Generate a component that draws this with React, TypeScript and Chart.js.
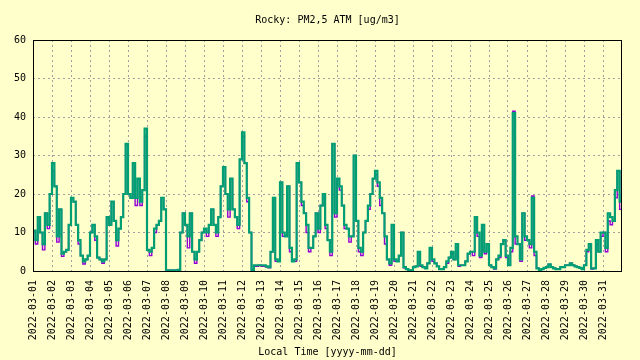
import React, { useEffect, useRef } from "react";
import { Chart, registerables } from "chart.js";

Chart.register(...registerables);

const TITLE = "Rocky: PM2,5 ATM [ug/m3]";
const X_TITLE = "Local Time [yyyy-mm-dd]";

// tick labels (one per day)
const dateLabels: string[] = [
  "2022-03-01", "2022-03-02", "2022-03-03", "2022-03-04", "2022-03-05", "2022-03-06",
  "2022-03-07", "2022-03-08", "2022-03-09", "2022-03-10", "2022-03-11", "2022-03-12",
  "2022-03-13", "2022-03-14", "2022-03-15", "2022-03-16", "2022-03-17", "2022-03-18",
  "2022-03-19", "2022-03-20", "2022-03-21", "2022-03-22", "2022-03-23", "2022-03-24",
  "2022-03-25", "2022-03-26", "2022-03-27", "2022-03-28", "2022-03-29", "2022-03-30",
  "2022-03-31",
];

const yTicks = [0, 10, 20, 30, 40, 50, 60];

// sample interval: 3 hours (in days)
const SAMPLE_DAYS = 3 / 24;

// channel B (teal), 8 samples per day, last value at the right edge
const channelB: number[] = [
  10.5, 8, 14, 10, 7, 15, 12, 20,
  28, 22, 9, 16, 4.5, 5, 5.5, 12,
  19, 18, 12, 8, 4, 2.5, 3, 4,
  10, 12, 9, 3.5, 3, 2.5, 3, 14,
  12, 18, 13, 8, 11, 14, 20, 33,
  20, 19, 28, 19, 24, 18, 21, 37,
  5.5, 5, 6, 11, 12, 13, 19, 16,
  0.2, 0.2, 0.2, 0.2, 0.2, 0.3, 10, 15,
  12, 9, 15, 5, 3, 5, 8, 10,
  11, 10, 12, 16, 12, 10, 14, 22,
  27, 20, 16, 24, 16, 14, 12, 29,
  36, 28, 19, 10, 0.3, 1.5, 1.5, 1.5,
  1.5, 1.5, 1.2, 1, 5, 19, 3, 2.5,
  23, 10, 9, 22, 6, 2.5, 3, 28,
  23, 18, 15, 12, 6, 6, 9, 15,
  11, 17, 20, 12, 8, 5, 33, 15,
  24, 22, 17, 12, 11, 9, 9, 30,
  13, 6, 5, 10, 13, 17, 20, 24,
  26, 23, 19, 15, 9, 3, 2, 12,
  3, 2.5, 4, 10, 1, 0.5, 0.2, 0.2,
  1, 1.2, 5, 1.5, 1, 0.7, 2, 6,
  3, 2, 1.2, 0.5, 0.5, 1, 2.5, 3.5,
  5, 3, 7, 1.5, 1.5, 1.5, 2.5, 4.5,
  5, 5, 14, 10, 4, 12, 5, 7,
  1.5, 1, 0.7, 3, 4, 7, 8, 4,
  1.5, 6, 41, 9, 7, 3, 15, 9,
  8, 7, 19, 5, 0.7, 0.3, 0.5, 0.8,
  1, 1.7, 1, 0.7, 0.5, 0.5, 1, 1,
  1.5, 1.5, 2, 1.5, 1.2, 1, 0.8, 0.5,
  1.5, 5.5, 7, 0.7, 0.7, 8, 5, 10,
  10, 6, 15, 14, 13, 21, 26, 18,
  20,
];

// channel A (purple)
const channelA: number[] = [
  10.5, 7, 14, 10, 5.5, 15, 11, 20,
  26, 22, 7.5, 16, 3.8, 5, 5.5, 12,
  19, 18, 12, 7, 4, 1.8, 3, 4,
  10, 12, 8, 3.5, 3, 2, 3, 14,
  12, 18, 13, 6.5, 11, 14, 20, 33,
  20, 19, 28, 17, 24, 17, 21, 35,
  5.5, 4, 6, 10, 12, 13, 19, 16,
  0.2, 0.2, 0.2, 0.2, 0.2, 0.3, 10, 15,
  12, 6, 15, 5, 2, 5, 8, 10,
  11, 9, 12, 16, 12, 9, 14, 22,
  27, 20, 14, 24, 16, 14, 11, 29,
  35, 28, 18, 10, 0.3, 1.2, 1.2, 1.5,
  1.2, 1.2, 1, 0.8, 5, 19, 2.5, 2.5,
  23, 9, 9, 22, 5, 2.5, 2.5, 28,
  23, 17, 15, 10, 5, 6, 9, 15,
  10, 17, 20, 11, 8, 4, 33, 14,
  24, 21, 17, 11, 11, 7.5, 9, 30,
  13, 5, 4, 10, 13, 16, 20, 24,
  25, 22, 17, 15, 7, 3, 1.5, 12,
  2.5, 2.5, 4, 10, 0.8, 0.5, 0.2, 0.2,
  1, 1.2, 5, 1.2, 1, 0.7, 2, 5.5,
  2.5, 2, 1.2, 0.5, 0.5, 1, 2, 3.5,
  4.5, 3, 6, 1.2, 1.5, 1.5, 2.5, 4.5,
  5, 4, 14, 9, 3.5, 12, 4.5, 7,
  1.5, 1, 0.5, 3, 3.5, 7, 8, 3.5,
  1.5, 5, 41.5, 7, 7, 2.5, 15, 8,
  8, 6, 19.5, 4, 0.7, 0.2, 0.5, 0.8,
  1, 1.7, 1, 0.7, 0.5, 0.5, 1, 1,
  1.5, 1.5, 2, 1.5, 1.2, 1, 0.8, 0.5,
  1.5, 5, 7, 0.5, 0.7, 7, 5, 9,
  10, 5, 13, 12, 13, 19, 26, 16,
  12,
];

const BG = "#ffffcc";
const FONT = "DejaVu Sans Mono";

const toPoints = (vals: number[]) =>
  vals.map((v, i) => ({ x: Math.min(i * SAMPLE_DAYS, dateLabels.length), y: v }));

const decorPlugin = {
  id: "decor",
  beforeDraw(chart: any) {
    const { ctx, width, height } = chart;
    ctx.save();
    ctx.fillStyle = BG;
    ctx.fillRect(0, 0, width, height);
    ctx.restore();
  },
  afterDraw(chart: any) {
    const { ctx, chartArea } = chart;
    const { left, right, top, bottom } = chartArea;
    ctx.save();
    ctx.strokeStyle = "#000";
    ctx.lineWidth = 1;
    ctx.setLineDash([]);
    ctx.strokeRect(Math.round(left) + 0.5, Math.round(top) + 0.5, Math.round(right - left) - 1, Math.round(bottom - top));
    ctx.fillStyle = "#000";
    ctx.font = `10px "${FONT}"`;
    ctx.textAlign = "center";
    ctx.textBaseline = "middle";
    const cx = (left + right) / 2;
    ctx.fillText(TITLE, cx, 20);
    ctx.fillText(X_TITLE, cx, 352);
    ctx.restore();
  },
};

export default function App() {
  const ref = useRef<HTMLCanvasElement | null>(null);

  useEffect(() => {
    document.body.style.margin = "0";
    const canvas = ref.current;
    if (!canvas) return;
    const chart = new Chart(canvas, {
      type: "line",
      data: {
        datasets: [
          {
            label: "B",
            data: toPoints(channelB),
            borderColor: "#009e73",
            backgroundColor: "#009e73",
            borderWidth: 2.2,
            pointRadius: 0,
            stepped: "before",
            fill: false,
          },
          {
            label: "A",
            data: toPoints(channelA),
            borderColor: "#9400d3",
            backgroundColor: "#9400d3",
            borderWidth: 1.4,
            pointRadius: 0,
            stepped: "before",
            fill: false,
          },
        ],
      },
      options: {
        animation: false,
        responsive: false,
        layout: { padding: { top: 40, right: 18, left: 0, bottom: 0 } },
        plugins: {
          legend: { display: false },
          title: { display: false },
          tooltip: { enabled: false },
        },
        scales: {
          x: {
            type: "linear",
            min: 0,
            max: dateLabels.length,
            afterBuildTicks: (scale: any) => {
              scale.ticks = dateLabels.map((_, i) => ({ value: i }));
            },
            afterFit: (scale: any) => {
              scale.height = 89;
            },
            grid: { color: "#a0a0a0", lineWidth: 1, drawTicks: false },
            border: { display: false, dash: [2, 3] },
            ticks: {
              autoSkip: false,
              maxRotation: 90,
              minRotation: 90,
              padding: 9,
              color: "#000",
              font: { family: FONT, size: 10 },
              callback: (v: any) => dateLabels[Number(v)] ?? "",
            },
          },
          y: {
            min: 0,
            max: 60,
            afterBuildTicks: (scale: any) => {
              scale.ticks = yTicks.map((v) => ({ value: v }));
            },
            afterFit: (scale: any) => {
              scale.width = 33;
            },
            grid: { color: "#a0a0a0", lineWidth: 1, drawTicks: false },
            border: { display: false, dash: [2, 3] },
            ticks: {
              padding: 7,
              color: "#000",
              font: { family: FONT, size: 10 },
            },
          },
        },
      },
      plugins: [decorPlugin],
    });
    return () => chart.destroy();
  }, []);

  return (
    <div style={{ width: 640, height: 360 }}>
      <canvas ref={ref} width={640} height={360} style={{ display: "block" }} />
    </div>
  );
}
